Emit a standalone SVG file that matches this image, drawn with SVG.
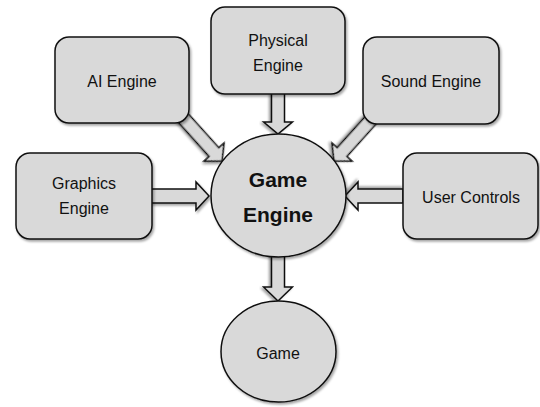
<svg xmlns="http://www.w3.org/2000/svg" width="540" height="407" viewBox="0 0 540 407">
  <defs>
    <filter id="shadow" x="-10%" y="-10%" width="125%" height="125%">
      <feDropShadow dx="1.5" dy="2" stdDeviation="1.2" flood-color="#000" flood-opacity="0.35"/>
    </filter>
  </defs>
  <style>
    .box { fill: #d9d9d9; stroke: #111; stroke-width: 1.5; filter: url(#shadow); }
    .arrow { fill: #d9d9d9; stroke: #111; stroke-width: 1.5; stroke-linejoin: miter; filter: url(#shadow); }
    .label { font-family: "Liberation Sans", Arial, sans-serif; font-size: 16px; fill: #111; text-anchor: middle; }
    .title { font-family: "Liberation Sans", Arial, sans-serif; font-size: 21px; font-weight: bold; fill: #111; text-anchor: middle; }
  </style>
  <rect width="540" height="407" fill="#ffffff"/>

  <!-- block arrows, tip at local origin pointing along +x -->
  <g id="connectors">
    <path class="arrow" transform="translate(209,196)" d="M0,0 L-13,-14 L-13,-7 L-58,-7 L-58,7 L-13,7 L-13,14 Z"/>
    <path class="arrow" transform="translate(345,196) rotate(180)" d="M0,0 L-13,-14 L-13,-7 L-58,-7 L-58,7 L-13,7 L-13,14 Z"/>
    <path class="arrow" transform="translate(278,134) rotate(90)" d="M0,0 L-12,-14.5 L-12,-6.5 L-41,-6.5 L-41,6.5 L-12,6.5 L-12,14.5 Z"/>
    <path class="arrow" transform="translate(278,301) rotate(90)" d="M0,0 L-14,-14.5 L-14,-6.5 L-45,-6.5 L-45,6.5 L-14,6.5 L-14,14.5 Z"/>
    <path class="arrow" transform="translate(222,161) rotate(48)" d="M0,0 L-12,-13.5 L-12,-6.5 L-60,-6.5 L-60,6.5 L-12,6.5 L-12,13.5 Z"/>
    <path class="arrow" transform="translate(334,161) rotate(132)" d="M0,0 L-12,-13.5 L-12,-6.5 L-60,-6.5 L-60,6.5 L-12,6.5 L-12,13.5 Z"/>
  </g>

  <g id="ai-engine">
    <rect class="box" x="55" y="37" width="134" height="86" rx="14"/>
    <text class="label" x="122" y="87">AI Engine</text>
  </g>

  <g id="physical-engine">
    <rect class="box" x="211" y="7" width="134" height="87" rx="14"/>
    <text class="label" x="278" y="46">Physical</text>
    <text class="label" x="278" y="71">Engine</text>
  </g>

  <g id="sound-engine">
    <rect class="box" x="363" y="37" width="136" height="87" rx="14"/>
    <text class="label" x="431" y="87">Sound Engine</text>
  </g>

  <g id="graphics-engine">
    <rect class="box" x="16" y="153" width="136" height="86" rx="14"/>
    <text class="label" x="84" y="189">Graphics</text>
    <text class="label" x="84" y="214">Engine</text>
  </g>

  <g id="user-controls">
    <rect class="box" x="403" y="153" width="135" height="86" rx="14"/>
    <text class="label" x="471" y="203">User Controls</text>
  </g>

  <g id="game-engine">
    <ellipse class="box" cx="278.5" cy="195.5" rx="67.5" ry="61.5"/>
    <text class="title" x="278" y="187">Game</text>
    <text class="title" x="278" y="222">Engine</text>
  </g>

  <g id="game">
    <ellipse class="box" cx="278.5" cy="351.5" rx="57.5" ry="50.5"/>
    <text class="label" x="278" y="359">Game</text>
  </g>
</svg>
